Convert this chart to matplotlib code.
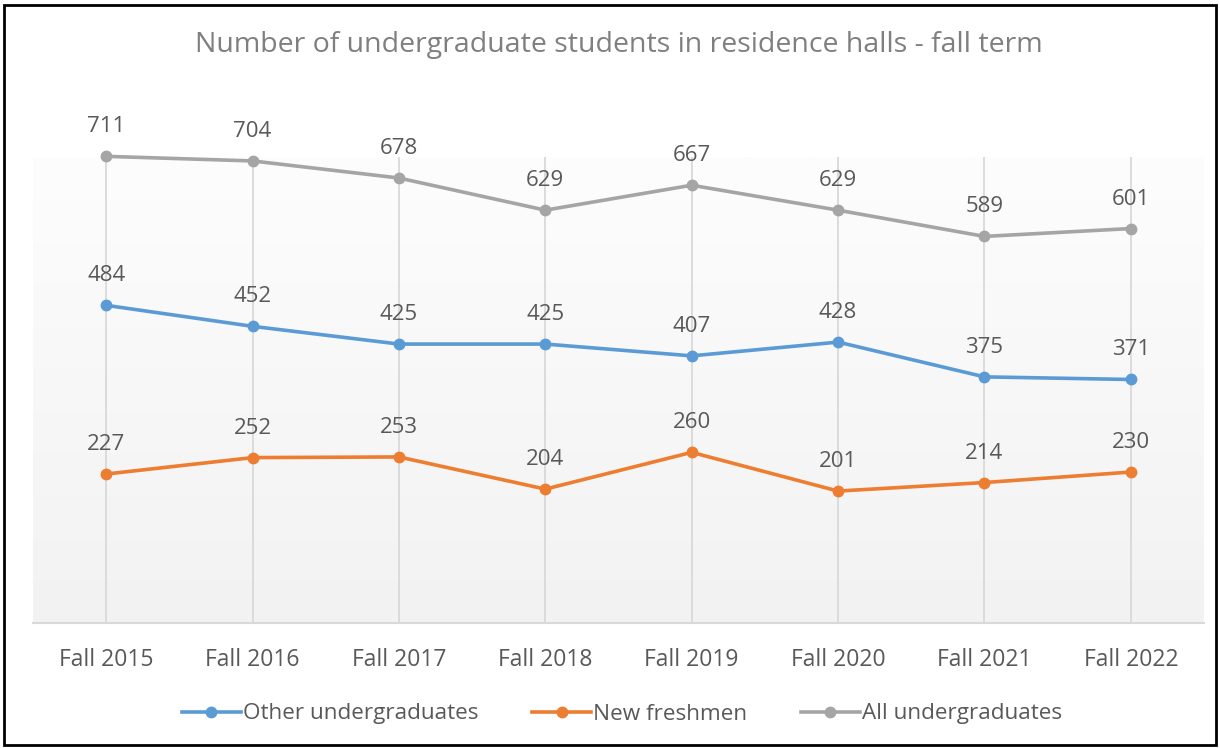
import matplotlib
matplotlib.use("Agg")
import matplotlib.pyplot as plt
import numpy as np
from matplotlib.patches import Rectangle
from matplotlib.colors import LinearSegmentedColormap

categories = ["Fall 2015", "Fall 2016", "Fall 2017", "Fall 2018", "Fall 2019", "Fall 2020", "Fall 2021", "Fall 2022"]
other_undergrads = [484, 452, 425, 425, 407, 428, 375, 371]
new_freshmen = [227, 252, 253, 204, 260, 201, 214, 230]
all_undergrads = [711, 704, 678, 629, 667, 629, 589, 601]
series_names = ["Other undergraduates", "New freshmen", "All undergraduates"]
series_colors = ["#5B9BD5", "#ED7D31", "#A5A5A5"]

plt.rcParams['font.family'] = ['Open Sans', 'DejaVu Sans']
W, H = 1220, 748
fig = plt.figure(figsize=(W / 100, H / 100), dpi=100)
top_px, bot_px = 157, 623
ax = fig.add_axes([33 / W, 1 - bot_px / H, (1204 - 33) / W, (bot_px - top_px) / H])

x = np.arange(len(categories))
ymax = 710
ax.set_xlim(-0.5, len(categories) - 0.5)
ax.set_ylim(0, ymax)

grad = np.linspace(1.0, 0.0, 256).reshape(-1, 1)
cmap = LinearSegmentedColormap.from_list("g", ["#F2F2F2", "#FDFDFD"])
ax.imshow(grad, aspect='auto', cmap=cmap, extent=[-0.5, len(categories) - 0.5, 0, ymax],
          origin='upper', zorder=0, vmin=0, vmax=1)
for s in ax.spines.values():
    s.set_visible(False)
ax.spines['bottom'].set_visible(True)
ax.spines['bottom'].set_color("#D9D9D9")
ax.spines['bottom'].set_linewidth(1.5)

for xi in x:
    ax.axvline(xi, color="#D9D9D9", lw=1.3, zorder=1)

for vals, name, col in zip([other_undergrads, new_freshmen, all_undergrads], series_names, series_colors):
    ax.plot(x, vals, color=col, lw=2.6, marker='o', markersize=7.5, label=name, zorder=3, clip_on=False)
    for xi, v in zip(x, vals):
        ax.annotate(str(v), (xi, v), xytext=(0, 19), textcoords='offset pixels',
                    ha='center', va='bottom', fontsize=16, color="#595959", zorder=4,
                    annotation_clip=False)

ax.set_xticks(x)
ax.set_xticklabels(categories, fontsize=16.5, color="#595959")
ax.tick_params(axis='x', length=0, pad=18)
ax.set_yticks([])

fig.text(619 / W, 1 - 45 / H, "Number of undergraduate students in residence halls - fall term",
         ha='center', va='center', fontsize=20.5, color="#7F7F7F")

leg = fig.legend(loc='center', bbox_to_anchor=(622 / W, 1 - 714 / H), ncol=3, frameon=False,
                 fontsize=16.2, handlelength=2.6, columnspacing=2.4, handletextpad=0.1)
for t in leg.get_texts():
    t.set_color("#595959")

fig.patches.append(Rectangle((4 / W, 3 / H), (W - 8) / W, (H - 8) / H, transform=fig.transFigure,
                             fill=False, edgecolor="black", lw=2, zorder=10))

fig.savefig("out.png", dpi=100, facecolor="white")
